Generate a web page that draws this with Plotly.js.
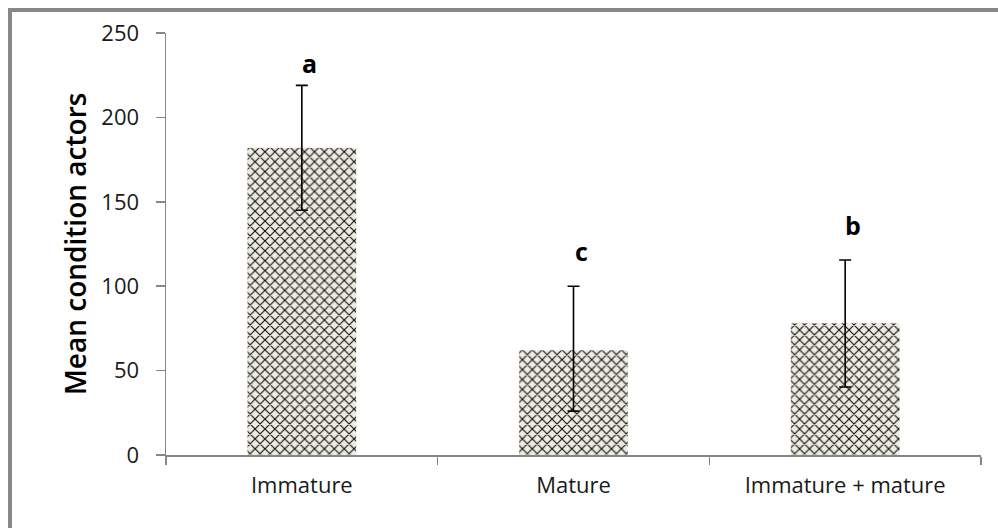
<!DOCTYPE html>
<html>
<head>
<meta charset="utf-8">
<script src="https://cdn.plot.ly/plotly-3.0.1.min.js"></script>
<style>
html,body{margin:0;padding:0;background:#fff;}
#chart{width:998px;height:528px;}
</style>
</head>
<body>
<div id="chart"></div>
<script>
const categories = ["Immature", "Mature", "Immature + mature"];
const means = [182, 62, 78];
const errPlus = [37, 38, 37.5];
const errMinus = [37, 36, 37.7];
const letters = ["a", "c", "b"];
const letterY = [232, 121, 136];
const yTicks = [0, 50, 100, 150, 200, 250];

const trace = {
  type: "bar",
  x: categories,
  y: means,
  width: 0.4,
  marker: {
    color: "#EEECE1",
    line: {width: 0},
    pattern: {shape: "x", size: 7, solidity: 0.3, fgcolor: "#111111", bgcolor: "#EEECE1", fillmode: "replace"}
  },
  error_y: {
    type: "data", symmetric: false, array: errPlus, arrayminus: errMinus,
    color: "#000000", thickness: 1.6, width: 6, visible: true
  },
  hoverinfo: "none"
};

const annotations = categories.map((c, i) => ({
  x: c, y: letterY[i], xref: "x", yref: "y", text: letters[i], showarrow: false,
  xshift: 8, font: {family: "Open Sans, sans-serif", size: 25, color: "#000", weight: "bold"}
}));
annotations.push({
  xref: "paper", yref: "paper", x: -0.1117, y: 0.5, xanchor: "center", yanchor: "middle",
  text: "Mean condition actors",
  textangle: -90, showarrow: false,
  font: {family: "Open Sans, sans-serif", size: 28, color: "#000", weight: 600}
});

const layout = {
  width: 998, height: 528,
  margin: {l: 166, r: 17, t: 33, b: 73},
  paper_bgcolor: "#fff", plot_bgcolor: "#fff",
  showlegend: false,
  bargap: 0.6,
  xaxis: {
    type: "category",
    showline: true, linecolor: "#868686", linewidth: 1.5,
    ticks: "outside", tickson: "boundaries", ticklen: 8, tickcolor: "#868686", tickwidth: 1.5,
    showgrid: false, zeroline: false,
    ticklabelstandoff: 10,
    tickfont: {family: "Open Sans, sans-serif", size: 22, color: "#1a1a1a"}
  },
  yaxis: {
    range: [0, 250], tickvals: yTicks,
    showline: true, linecolor: "#868686", linewidth: 1.5,
    ticks: "outside", ticklen: 9, tickcolor: "#868686", tickwidth: 1.5,
    showgrid: false, zeroline: false,
    ticklabelstandoff: 12,
    tickfont: {family: "Open Sans, sans-serif", size: 22, color: "#1a1a1a"}
  },
  annotations: annotations,
  shapes: [{
    type: "rect", xref: "paper", yref: "paper",
    x0: -0.1914, x1: 1.03, y0: -0.18, y1: 1.0545,
    line: {color: "#888888", width: 4}, fillcolor: "rgba(0,0,0,0)", layer: "below"
  }]
};

Plotly.newPlot("chart", [trace], layout, {displayModeBar: false, staticPlot: true});
</script>
</body>
</html>
